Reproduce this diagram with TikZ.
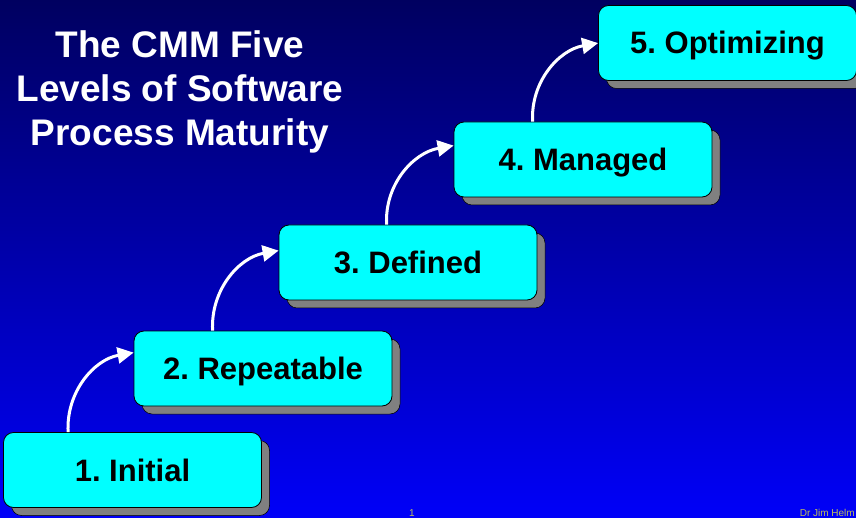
\documentclass[tikz,border=0pt]{standalone}
\usepackage{fontspec}
\setmainfont{Liberation Sans}
\usepackage{xcolor}
\usepackage{tikz}
\usetikzlibrary{arrows.meta,shadows}
\definecolor{bgtop}{HTML}{000060}
\definecolor{bgbot}{HTML}{0000F8}
\definecolor{boxcyan}{HTML}{00FFFF}
\definecolor{shadowgray}{HTML}{808080}
\definecolor{footyellow}{RGB}{190,190,90}
\frenchspacing

\tikzset{
  levelbox/.style={draw=black, line width=0.8pt, fill=boxcyan, rounded corners=10pt,
    minimum width=258pt, minimum height=75pt, inner sep=0pt,
    text height=22pt, text depth=0pt,
    font=\fontsize{31}{36}\selectfont\bfseries,
    general shadow={fill=shadowgray, draw=black, line width=0.5pt, shadow xshift=8pt, shadow yshift=-8pt}},
  flow/.style={white, line width=3pt, -{Triangle[length=16pt,width=16pt]}},
  foot/.style={footyellow, font=\fontsize{10}{11}\selectfont, inner sep=0pt}
}

\begin{document}
\begin{tikzpicture}[x=1pt, y=-1pt]
  \useasboundingbox (0,0) rectangle (856,518);
  \shade[top color=bgtop, bottom color=bgbot] (0,0) rectangle (856,518);
  % title
  \node[white, align=center, font=\fontsize{37}{44}\selectfont\bfseries] (title) at (180,92)
    {The CMM Five\\Levels of Software\\Process Maturity};
  % the five levels
  \node[levelbox] (b1) at (132.5,470) {1. Initial};
  \node[levelbox] (b2) at (263,368.5) {2. Repeatable};
  \node[levelbox] (b3) at (408,262.5) {3. Defined};
  \node[levelbox] (b4) at (583,159.5) {4. Managed};
  \node[levelbox] (b5) at (727.5,43) {5. Optimizing};
  % steps up
  \draw[flow] ([xshift=65pt]b1.north west) to[out=93,in=190] ([yshift=-22pt]b2.north west);
  \draw[flow] ([xshift=79pt]b2.north west) to[out=93,in=190] ([yshift=-26pt]b3.north west);
  \draw[flow] ([xshift=108pt]b3.north west) to[out=93,in=190] ([yshift=-24pt]b4.north west);
  \draw[flow] ([xshift=79pt]b4.north west) to[out=93,in=190] ([yshift=-38pt]b5.north west);
  % footer
  \node[foot, anchor=base] (page) at (412,516) {1};
  \node[foot, anchor=base east] (author) at (855,516) {Dr Jim Helm};
\end{tikzpicture}
\end{document}
